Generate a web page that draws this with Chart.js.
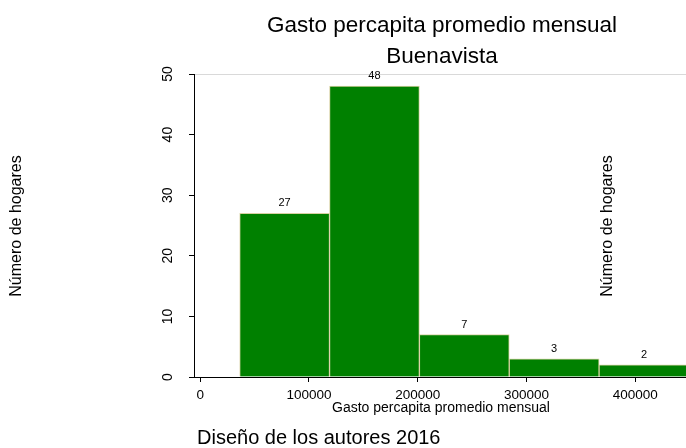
<!DOCTYPE html>
<html>
<head>
  <meta charset="utf-8">
  <script src="https://cdn.jsdelivr.net/npm/chart.js"></script>
  <style>
    body { margin: 0; background: #fff; }
    #wrap { width: 686px; height: 448px; }
  </style>
</head>
<body>
  <div id="wrap">
    <canvas id="histChart" width="686" height="448"></canvas>
  </div>
  <script>
    // histogram bins (centre of each bin) and household counts
    const binCenters = [77600, 160200, 242800, 325400, 408000];
    const counts = [27, 48, 7, 3, 2];
    const xTicks = [0, 100000, 200000, 300000, 400000];
    const yTicks = [0, 10, 20, 30, 40, 50];

    const titleLines = ['Gasto percapita promedio mensual', 'Buenavista'];
    const xTitle = 'Gasto percapita promedio mensual';
    const yTitle = 'Número de hogares';
    const note = 'Diseño de los autores 2016';

    const FONT = '"Liberation Sans", Arial, sans-serif';

    // labels over the bars plus the free text around the plot
    const extraText = {
      id: 'extraText',
      afterDraw(chart) {
        const ctx = chart.ctx;
        const meta = chart.getDatasetMeta(0);
        ctx.save();
        ctx.fillStyle = '#000';
        ctx.textAlign = 'center';
        ctx.textBaseline = 'alphabetic';

        ctx.font = '11px ' + FONT;
        meta.data.forEach((bar, i) => {
          ctx.fillText(String(counts[i]), bar.x, bar.y - 7);
        });

        ctx.font = '22.5px ' + FONT;
        ctx.fillText(titleLines[0], 442, 32);
        ctx.fillText(titleLines[1], 442, 63);

        ctx.font = '14px ' + FONT;
        ctx.fillText(xTitle, 441, 412);

        ctx.textAlign = 'left';
        ctx.font = '20px ' + FONT;
        ctx.fillText(note, 197, 444);

        [17, 608].forEach(x => {
          ctx.save();
          ctx.translate(x, 226);
          ctx.rotate(-Math.PI / 2);
          ctx.textAlign = 'center';
          ctx.textBaseline = 'middle';
          ctx.font = '16px ' + FONT;
          ctx.fillText(yTitle, 0, 0);
          ctx.restore();
        });
        ctx.restore();
      }
    };

    const ctx = document.getElementById('histChart').getContext('2d');
    const chart = new Chart(ctx, {
      type: 'bar',
      data: {
        datasets: [{
          data: binCenters.map((x, i) => ({ x: x, y: counts[i] })),
          backgroundColor: '#008000',
          borderColor: '#d8d2a2',
          borderWidth: 1,
          barPercentage: 1,
          categoryPercentage: 1
        }]
      },
      options: {
        responsive: false,
        animation: false,
        devicePixelRatio: 1,
        layout: { padding: { top: 74, left: 0, right: 0, bottom: 0 } },
        plugins: {
          legend: { display: false },
          tooltip: { enabled: false },
          title: { display: false }
        },
        scales: {
          x: {
            type: 'linear',
            offset: false,
            min: -5700,
            max: 446600,
            afterFit(s) { s.height = 71; },
            afterBuildTicks(s) { s.ticks = xTicks.map(v => ({ value: v })); },
            border: { color: '#000', width: 1 },
            grid: { offset: false, color: 'rgba(0,0,0,0)', tickColor: '#000', tickLength: 5 },
            ticks: {
              callback: v => String(v),
              maxRotation: 0,
              padding: 5,
              color: '#000',
              font: { family: FONT, size: 13.5 }
            }
          },
          y: {
            min: 0,
            max: 50,
            afterFit(s) { s.width = 194; },
            afterBuildTicks(s) { s.ticks = yTicks.map(v => ({ value: v })); },
            border: { color: '#000', width: 1 },
            grid: {
              color: c => (c.tick && c.tick.value === 50) ? '#d9d9d9' : 'rgba(0,0,0,0)',
              tickColor: '#000',
              tickLength: 5
            },
            ticks: {
              minRotation: 90,
              maxRotation: 90,
              crossAlign: 'center',
              padding: 13,
              color: '#000',
              font: { family: FONT, size: 14 }
            }
          }
        }
      },
      plugins: [extraText]
    });
  </script>
</body>
</html>
